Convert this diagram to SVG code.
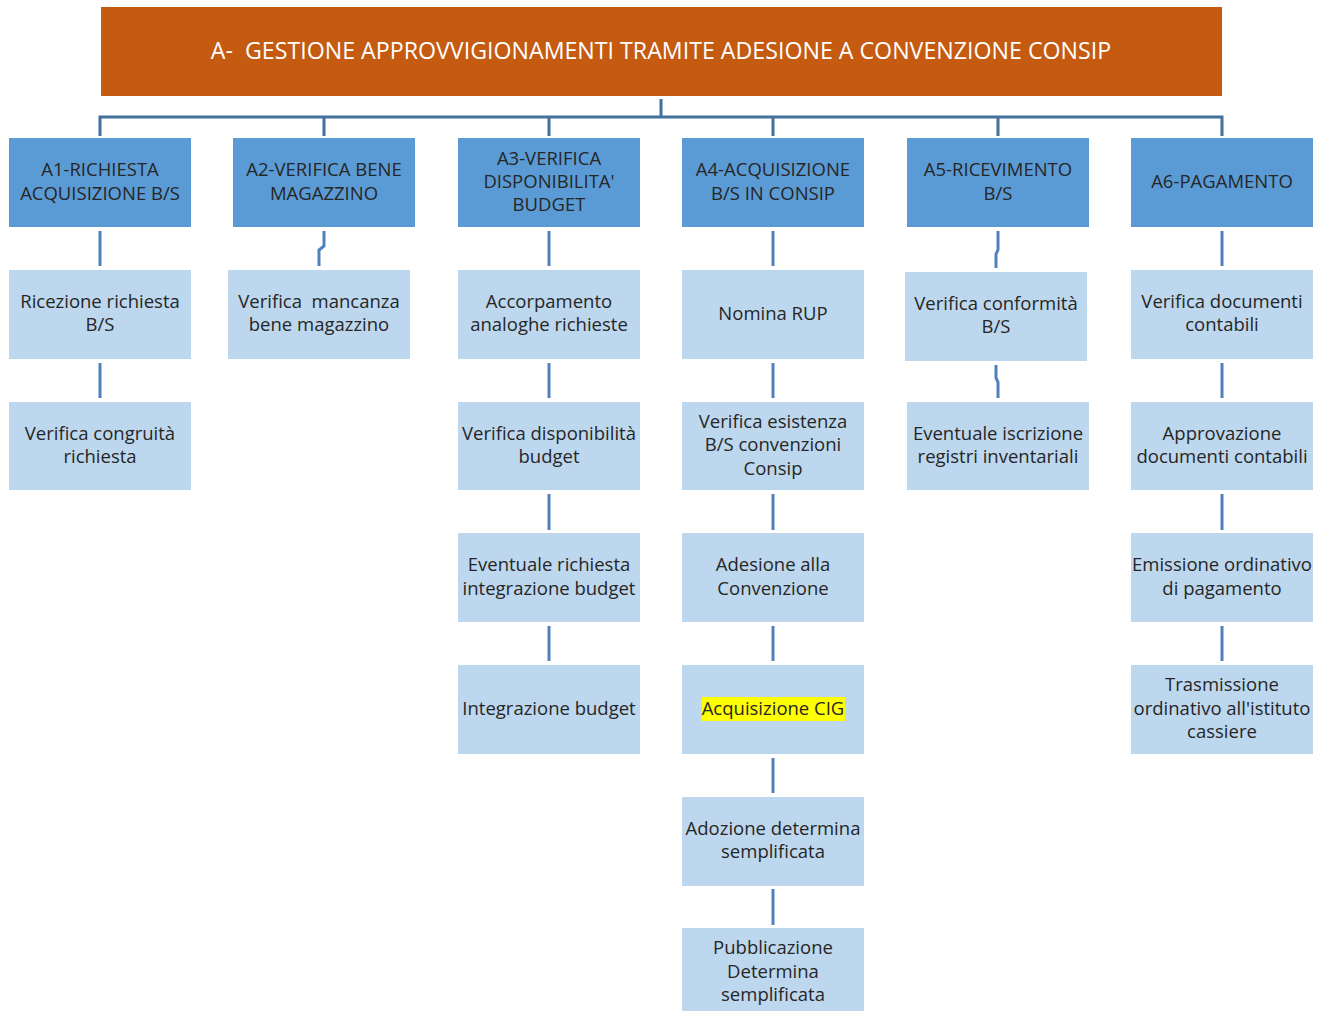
<svg xmlns="http://www.w3.org/2000/svg" width="1328" height="1011" viewBox="0 0 1328 1011">
<style>
.top{fill:#C55A11}
.l1{fill:#5B9BD5}
.l2{fill:#BDD7EE}
.t{font-family:"Open Sans",Lato,sans-serif;font-size:18.5px;fill:#262626;text-anchor:middle}
.tt{font-family:"Open Sans",Lato,sans-serif;font-size:23.2px;fill:#ffffff;text-anchor:middle}
.c{stroke:#4F81BD;stroke-width:3;fill:none}
.ct{stroke:#41719C;stroke-width:3;fill:none}
</style>
<rect width="1328" height="1011" fill="#ffffff"/>
<g id="connectors">
<path class="ct" d="M661 99V117M100 136V117H1222V136M324 117V136M549 117V136M773 117V136M998 117V136"/>
<path class="c" d="M100 231V266M100 363V398"/>
<path class="c" d="M324 231V246L319 250V266"/>
<path class="c" d="M549 231V266M549 363V398M549 494V530M549 626V661"/>
<path class="c" d="M773 231V266M773 363V398M773 494V530M773 626V661M773 758V793M773 889V925"/>
<path class="c" d="M998 231V250L996 254V268M996 365V378L998 382V398"/>
<path class="c" d="M1222 231V266M1222 363V398M1222 494V530M1222 626V661"/>
</g>
<g id="title"><rect class="top" x="101" y="7" width="1121" height="89"/><text class="tt" x="661" y="59" xml:space="preserve">A-  GESTIONE APPROVVIGIONAMENTI TRAMITE ADESIONE A CONVENZIONE CONSIP</text></g>
<g id="A1"><rect class="l1" x="9" y="138" width="182" height="89"/><text class="t"><tspan x="100" y="176">A1-RICHIESTA</tspan><tspan x="100" y="200">ACQUISIZIONE B/S</tspan></text></g>
<g id="A2"><rect class="l1" x="233" y="138" width="182" height="89"/><text class="t"><tspan x="324" y="176">A2-VERIFICA BENE</tspan><tspan x="324" y="200">MAGAZZINO</tspan></text></g>
<g id="A3"><rect class="l1" x="458" y="138" width="182" height="89"/><text class="t"><tspan x="549" y="165">A3-VERIFICA</tspan><tspan x="549" y="188">DISPONIBILITA'</tspan><tspan x="549" y="211">BUDGET</tspan></text></g>
<g id="A4"><rect class="l1" x="682" y="138" width="182" height="89"/><text class="t"><tspan x="773" y="176">A4-ACQUISIZIONE</tspan><tspan x="773" y="200">B/S IN CONSIP</tspan></text></g>
<g id="A5"><rect class="l1" x="907" y="138" width="182" height="89"/><text class="t"><tspan x="998" y="176">A5-RICEVIMENTO</tspan><tspan x="998" y="200">B/S</tspan></text></g>
<g id="A6"><rect class="l1" x="1131" y="138" width="182" height="89"/><text class="t" x="1222" y="188">A6-PAGAMENTO</text></g>
<g id="A1-1"><rect class="l2" x="9" y="270" width="182" height="89"/><text class="t"><tspan x="100" y="308">Ricezione richiesta</tspan><tspan x="100" y="331">B/S</tspan></text></g>
<g id="A1-2"><rect class="l2" x="9" y="402" width="182" height="88"/><text class="t"><tspan x="100" y="440">Verifica congruità</tspan><tspan x="100" y="463">richiesta</tspan></text></g>
<g id="A2-1"><rect class="l2" x="228" y="270" width="182" height="89"/><text class="t" xml:space="preserve"><tspan x="319" y="308">Verifica  mancanza</tspan><tspan x="319" y="331">bene magazzino</tspan></text></g>
<g id="A3-1"><rect class="l2" x="458" y="270" width="182" height="89"/><text class="t"><tspan x="549" y="308">Accorpamento</tspan><tspan x="549" y="331">analoghe richieste</tspan></text></g>
<g id="A3-2"><rect class="l2" x="458" y="402" width="182" height="88"/><text class="t"><tspan x="549" y="440">Verifica disponibilità</tspan><tspan x="549" y="463">budget</tspan></text></g>
<g id="A3-3"><rect class="l2" x="458" y="533" width="182" height="89"/><text class="t"><tspan x="549" y="571">Eventuale richiesta</tspan><tspan x="549" y="595">integrazione budget</tspan></text></g>
<g id="A3-4"><rect class="l2" x="458" y="665" width="182" height="89"/><text class="t" x="549" y="715">Integrazione budget</text></g>
<g id="A4-1"><rect class="l2" x="682" y="270" width="182" height="89"/><text class="t" x="773" y="320">Nomina RUP</text></g>
<g id="A4-2"><rect class="l2" x="682" y="402" width="182" height="88"/><text class="t"><tspan x="773" y="428">Verifica esistenza</tspan><tspan x="773" y="451">B/S convenzioni</tspan><tspan x="773" y="475">Consip</tspan></text></g>
<g id="A4-3"><rect class="l2" x="682" y="533" width="182" height="89"/><text class="t"><tspan x="773" y="571">Adesione alla</tspan><tspan x="773" y="595">Convenzione</tspan></text></g>
<g id="A4-4"><rect class="l2" x="682" y="665" width="182" height="89"/><rect x="702" y="697" width="143" height="24" fill="#FFFF00"/><text class="t" x="773" y="715">Acquisizione CIG</text></g>
<g id="A4-5"><rect class="l2" x="682" y="797" width="182" height="89"/><text class="t"><tspan x="773" y="835">Adozione determina</tspan><tspan x="773" y="858">semplificata</tspan></text></g>
<g id="A4-6"><rect class="l2" x="682" y="928" width="182" height="83"/><text class="t"><tspan x="773" y="954">Pubblicazione</tspan><tspan x="773" y="978">Determina</tspan><tspan x="773" y="1001">semplificata</tspan></text></g>
<g id="A5-1"><rect class="l2" x="905" y="272" width="182" height="89"/><text class="t"><tspan x="996" y="310">Verifica conformità</tspan><tspan x="996" y="333">B/S</tspan></text></g>
<g id="A5-2"><rect class="l2" x="907" y="402" width="182" height="88"/><text class="t"><tspan x="998" y="440">Eventuale iscrizione</tspan><tspan x="998" y="463">registri inventariali</tspan></text></g>
<g id="A6-1"><rect class="l2" x="1131" y="270" width="182" height="89"/><text class="t"><tspan x="1222" y="308">Verifica documenti</tspan><tspan x="1222" y="331">contabili</tspan></text></g>
<g id="A6-2"><rect class="l2" x="1131" y="402" width="182" height="88"/><text class="t"><tspan x="1222" y="440">Approvazione</tspan><tspan x="1222" y="463">documenti contabili</tspan></text></g>
<g id="A6-3"><rect class="l2" x="1131" y="533" width="182" height="89"/><text class="t"><tspan x="1222" y="571">Emissione ordinativo</tspan><tspan x="1222" y="595">di pagamento</tspan></text></g>
<g id="A6-4"><rect class="l2" x="1131" y="665" width="182" height="89"/><text class="t"><tspan x="1222" y="691">Trasmissione</tspan><tspan x="1222" y="715">ordinativo all'istituto</tspan><tspan x="1222" y="738">cassiere</tspan></text></g>
</svg>
